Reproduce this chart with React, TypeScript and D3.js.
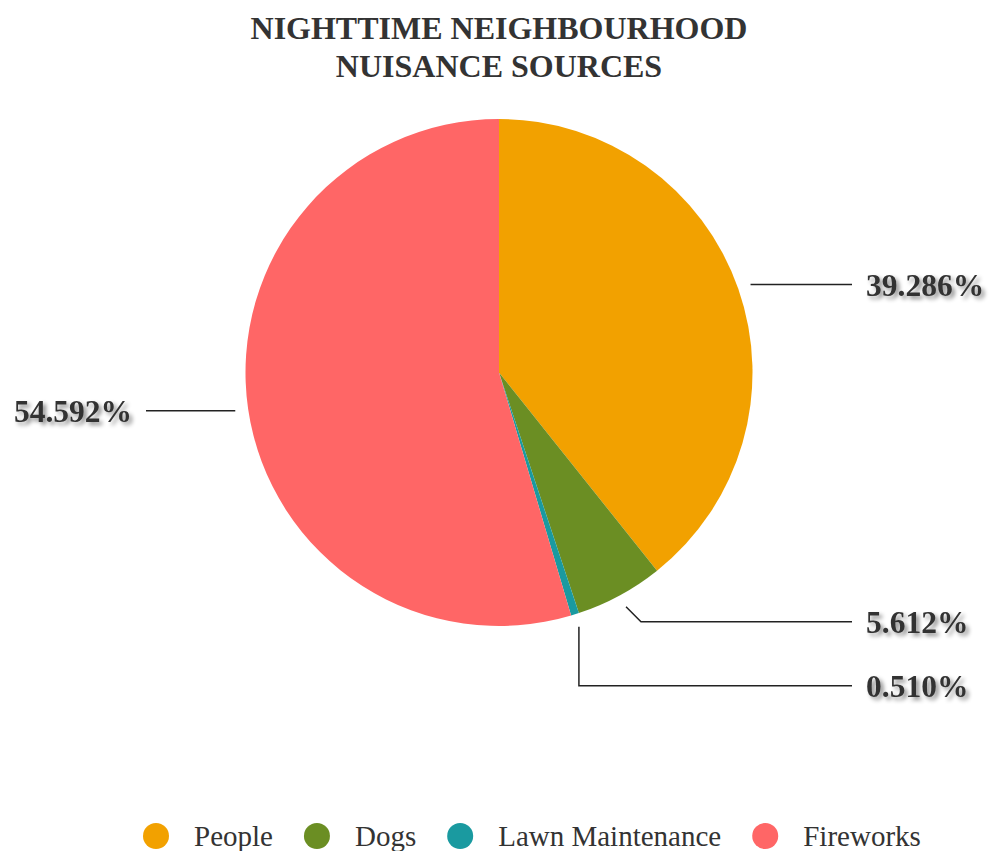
import React, { useEffect, useRef } from "react";
import * as d3 from "d3";

const categories = ["People", "Dogs", "Lawn Maintenance", "Fireworks"];
const values = [39.286, 5.612, 0.51, 54.592];
const colors = ["#F2A100", "#6B8E23", "#1A9AA0", "#FF6666"];
const titleLines = ["NIGHTTIME NEIGHBOURHOOD", "NUISANCE SOURCES"];

const W = 989;
const H = 851;
const FONT = "'Liberation Serif', 'Times New Roman', serif";

export default function App() {
  const ref = useRef<SVGSVGElement | null>(null);

  useEffect(() => {
    const svg = d3.select(ref.current);
    svg.selectAll("*").remove();

    const defs = svg.append("defs");
    const f = defs
      .append("filter")
      .attr("id", "shadow")
      .attr("x", "-20%")
      .attr("y", "-40%")
      .attr("width", "140%")
      .attr("height", "180%");
    f.append("feDropShadow")
      .attr("dx", 3)
      .attr("dy", 3)
      .attr("stdDeviation", 2)
      .attr("flood-color", "#000")
      .attr("flood-opacity", 0.45);

    const cx = 499;
    const cy = 372.5;
    const R = 253.5;

    // title
    svg
      .append("g")
      .selectAll("text")
      .data(titleLines)
      .join("text")
      .attr("x", cx)
      .attr("y", (_, i) => 39 + i * 38)
      .attr("text-anchor", "middle")
      .attr("font-family", FONT)
      .attr("font-weight", "bold")
      .attr("font-size", 32)
      .attr("fill", "#333")
      .text((d) => d);

    const data = categories.map((c, i) => ({ name: c, value: values[i], color: colors[i] }));
    const pie = d3
      .pie<any>()
      .sort(null)
      .value((d) => d.value);
    const arcs = pie(data);
    const arc = d3.arc<any>().innerRadius(0).outerRadius(R);
    const total = d3.sum(values);

    const g = svg.append("g").attr("transform", `translate(${cx},${cy})`);
    g.selectAll("path")
      .data(arcs)
      .join("path")
      .attr("d", arc as any)
      .attr("fill", (d: any) => d.data.color);

    // label layout
    const labels = arcs.map((a: any) => {
      const mid = (a.startAngle + a.endAngle) / 2;
      const s = Math.sin(mid);
      const c = -Math.cos(mid);
      const start = [s * (R + 13), c * (R + 13)];
      const y0 = c * (R + 30);
      return {
        a,
        right: s >= 0,
        start,
        y: y0,
        text: ((a.data.value / total) * 100).toFixed(3) + "%",
      };
    });
    const minGap = 64;
    [true, false].forEach((side) => {
      const list = labels.filter((l) => l.right === side).sort((p, q) => p.y - q.y);
      for (let i = 1; i < list.length; i++) {
        if (list[i].y - list[i - 1].y < minGap) list[i].y = list[i - 1].y + minGap;
      }
    });

    const lineEnd = 353;
    const textOff = 367;
    const lg = g.append("g");
    labels.forEach((l) => {
      const sign = l.right ? 1 : -1;
      const dy = l.y - l.start[1];
      let pts: [number, number][];
      if (Math.abs(dy) <= 10) {
        l.y = l.start[1];
        pts = [
          [l.start[0], l.y],
          [sign * lineEnd, l.y],
        ];
      } else {
        const ex = Math.abs(dy) <= 30 ? l.start[0] + sign * Math.abs(dy) : l.start[0];
        pts = [
          [l.start[0], l.start[1]],
          [ex, l.y],
          [sign * lineEnd, l.y],
        ];
      }
      lg.append("path")
        .attr("d", d3.line()(pts) as string)
        .attr("fill", "none")
        .attr("stroke", "#222")
        .attr("stroke-width", 1.5);
      lg.append("text")
        .attr("x", sign * textOff)
        .attr("y", l.y + 11.5)
        .attr("text-anchor", l.right ? "start" : "end")
        .attr("font-family", FONT)
        .attr("font-weight", "bold")
        .attr("font-size", 31.5)
        .attr("fill", "#333")
        .attr("filter", "url(#shadow)")
        .text(l.text);
    });

    // legend
    const leg = svg.append("g");
    let x = 143;
    const ly = 836;
    data.forEach((d) => {
      leg
        .append("circle")
        .attr("cx", x + 13)
        .attr("cy", ly)
        .attr("r", 13)
        .attr("fill", d.color);
      const t = leg
        .append("text")
        .attr("x", x + 51)
        .attr("y", ly + 9.5)
        .attr("font-family", FONT)
        .attr("font-size", 29)
        .attr("fill", "#333")
        .text(d.name);
      const w = (t.node() as SVGTextElement).getComputedTextLength();
      x = x + 51 + w + 31;
    });
  }, []);

  return (
    <svg
      ref={ref}
      width={W}
      height={H}
      style={{ position: "absolute", left: 0, top: 0, background: "#fff" }}
    />
  );
}
